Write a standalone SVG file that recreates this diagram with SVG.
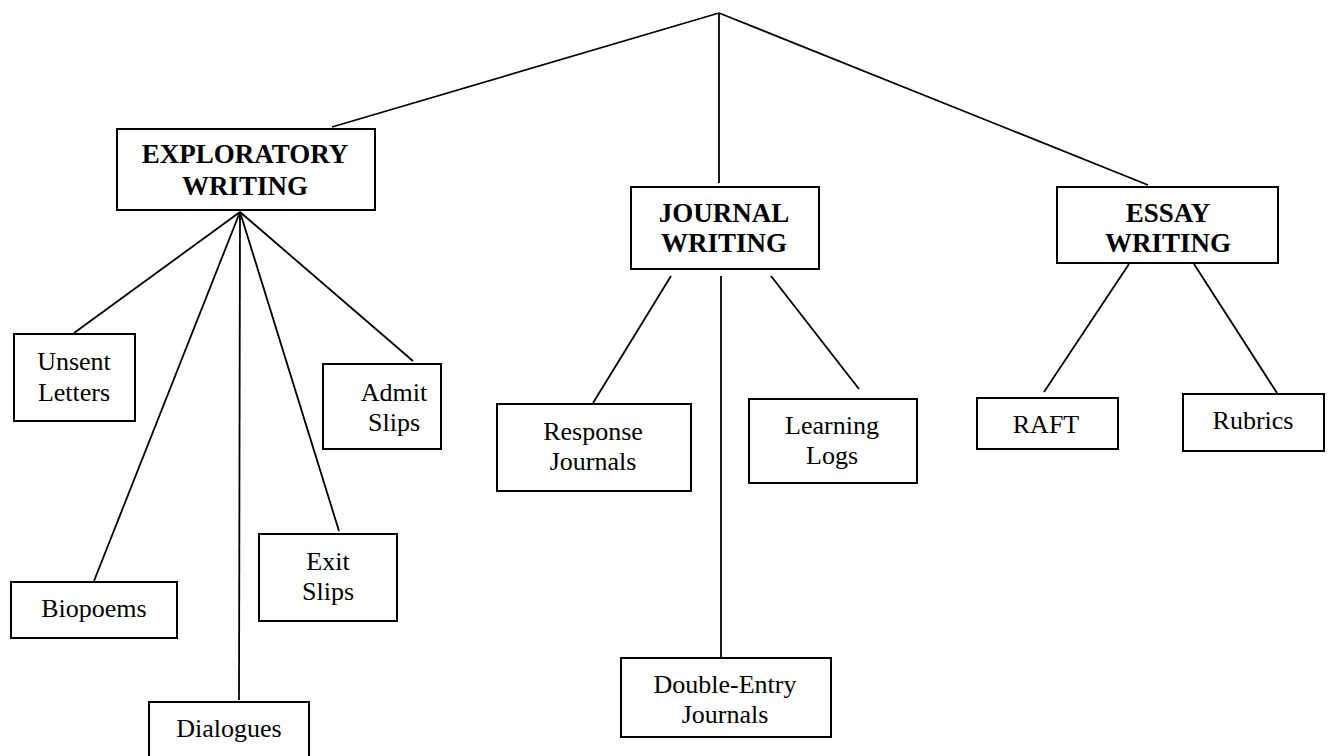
<svg xmlns="http://www.w3.org/2000/svg" width="1332" height="756" viewBox="0 0 1332 756">
  <style>
    .box { fill: #ffffff; stroke: #000000; stroke-width: 2; }
    .link { stroke: #000000; stroke-width: 1.8; fill: none; }
    .head { font-family: "Liberation Serif", "Times New Roman", serif; font-size: 27px; font-weight: bold; text-anchor: middle; fill: #000000; }
    .leaf { font-family: "Liberation Serif", "Times New Roman", serif; font-size: 26px; text-anchor: middle; fill: #000000; }
  </style>
  <rect width="1332" height="756" fill="#ffffff"/>

  <!-- tree connectors -->
  <g id="connectors">
    <line class="link" x1="719" y1="13" x2="332" y2="127"/>
    <line class="link" x1="719" y1="13" x2="719" y2="183"/>
    <line class="link" x1="719" y1="13" x2="1148" y2="185"/>

    <line class="link" x1="240" y1="212" x2="74" y2="333"/>
    <line class="link" x1="240" y1="212" x2="94" y2="581"/>
    <line class="link" x1="240" y1="212" x2="239" y2="700"/>
    <line class="link" x1="240" y1="212" x2="339" y2="531"/>
    <line class="link" x1="240" y1="212" x2="413" y2="361"/>

    <line class="link" x1="671" y1="276" x2="593" y2="403"/>
    <line class="link" x1="721" y1="276" x2="721" y2="658"/>
    <line class="link" x1="771" y1="276" x2="859" y2="389"/>

    <line class="link" x1="1129" y1="264" x2="1044" y2="392"/>
    <line class="link" x1="1194" y1="264" x2="1277" y2="393"/>
  </g>

  <g id="exploratory-writing">
    <rect class="box" x="117" y="129" width="258" height="81"/>
    <text class="head" x="245" y="163">EXPLORATORY</text>
    <text class="head" x="245" y="195">WRITING</text>
  </g>

  <g id="journal-writing">
    <rect class="box" x="631" y="187" width="188" height="82"/>
    <text class="head" x="724" y="222">JOURNAL</text>
    <text class="head" x="724" y="252">WRITING</text>
  </g>

  <g id="essay-writing">
    <rect class="box" x="1057" y="187" width="221" height="76"/>
    <text class="head" x="1168" y="222">ESSAY</text>
    <text class="head" x="1168" y="252">WRITING</text>
  </g>

  <g id="unsent-letters">
    <rect class="box" x="14" y="334" width="121" height="87"/>
    <text class="leaf" x="74" y="370">Unsent</text>
    <text class="leaf" x="74" y="401">Letters</text>
  </g>

  <g id="admit-slips">
    <rect class="box" x="323" y="364" width="118" height="85"/>
    <text class="leaf" x="394" y="401">Admit</text>
    <text class="leaf" x="394" y="431">Slips</text>
  </g>

  <g id="biopoems">
    <rect class="box" x="11" y="582" width="166" height="56"/>
    <text class="leaf" x="94" y="617">Biopoems</text>
  </g>

  <g id="exit-slips">
    <rect class="box" x="259" y="534" width="138" height="87"/>
    <text class="leaf" x="328" y="570">Exit</text>
    <text class="leaf" x="328" y="600">Slips</text>
  </g>

  <g id="dialogues">
    <rect class="box" x="149" y="702" width="160" height="58"/>
    <text class="leaf" x="229" y="737">Dialogues</text>
  </g>

  <g id="response-journals">
    <rect class="box" x="497" y="404" width="194" height="87"/>
    <text class="leaf" x="593" y="440">Response</text>
    <text class="leaf" x="593" y="470">Journals</text>
  </g>

  <g id="learning-logs">
    <rect class="box" x="749" y="399" width="168" height="84"/>
    <text class="leaf" x="832" y="434">Learning</text>
    <text class="leaf" x="832" y="464">Logs</text>
  </g>

  <g id="double-entry-journals">
    <rect class="box" x="621" y="658" width="210" height="79"/>
    <text class="leaf" x="725" y="693">Double-Entry</text>
    <text class="leaf" x="725" y="723">Journals</text>
  </g>

  <g id="raft">
    <rect class="box" x="977" y="398" width="141" height="51"/>
    <text class="leaf" x="1046" y="433">RAFT</text>
  </g>

  <g id="rubrics">
    <rect class="box" x="1183" y="394" width="141" height="57"/>
    <text class="leaf" x="1253" y="429">Rubrics</text>
  </g>
</svg>
